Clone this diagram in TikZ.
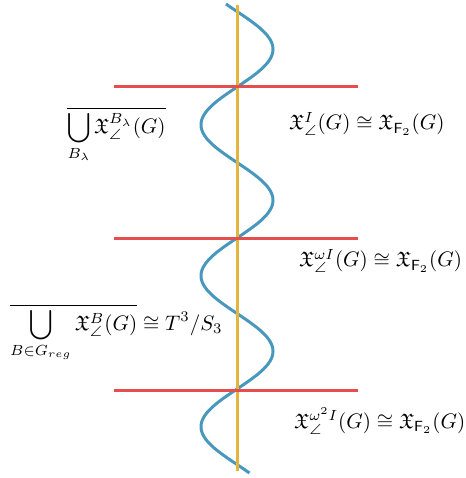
\documentclass[tikz,border=0pt]{standalone}
\usepackage{amsmath,amssymb,graphicx}
\definecolor{wave}{RGB}{72,152,190}
\definecolor{axisy}{RGB}{226,182,60}
\definecolor{cutr}{RGB}{228,78,78}
\newcommand{\bigtxt}[1]{\scalebox{2.1}{#1}}
\begin{document}
\begin{tikzpicture}[x=1pt,y=-1pt,
  lbl/.style={inner sep=0pt,anchor=west},
  cutline/.style={cutr,line width=3pt},
  axisline/.style={axisy,line width=3pt},
  waveline/.style={wave,line width=3pt}]
\useasboundingbox (0,0) rectangle (465,478);
\coordinate (ytop) at (237,5);
\coordinate (ybot) at (237,471);
\draw[waveline] plot[domain=4:473,samples=240,smooth] ({237+36*sin(2.384106*(\x-11.5))},\x);
\draw[axisline] (ytop) -- (ybot);
\foreach \y/\n in {87/a,238/b,390/c}{
  \coordinate (l\n) at (114,\y);
  \coordinate (r\n) at (358,\y);
  \draw[cutline] (l\n) -- (r\n);
}
\node[lbl] (t1) at (67,135) {\bigtxt{$\displaystyle\overline{\bigcup_{B_\lambda}\mathfrak{X}_\angle^{B_\lambda}(G)}$}};
\node[lbl] (t2) at (289,124) {\bigtxt{$\mathfrak{X}_\angle^{I}(G)\cong\mathfrak{X}_{\mathsf{F}_2}(G)$}};
\node[lbl] (t3) at (299,261) {\bigtxt{$\mathfrak{X}_\angle^{\omega I}(G)\cong\mathfrak{X}_{\mathsf{F}_2}(G)$}};
\node[lbl] (t4) at (10,333) {\bigtxt{$\displaystyle\overline{\bigcup_{B\in G_{reg}}\mathfrak{X}_\angle^{B}(G)}\cong T^3/S_3$}};
\node[lbl] (t5) at (294,421) {\bigtxt{$\mathfrak{X}_\angle^{\omega^2 I}(G)\cong\mathfrak{X}_{\mathsf{F}_2}(G)$}};
\end{tikzpicture}
\end{document}
